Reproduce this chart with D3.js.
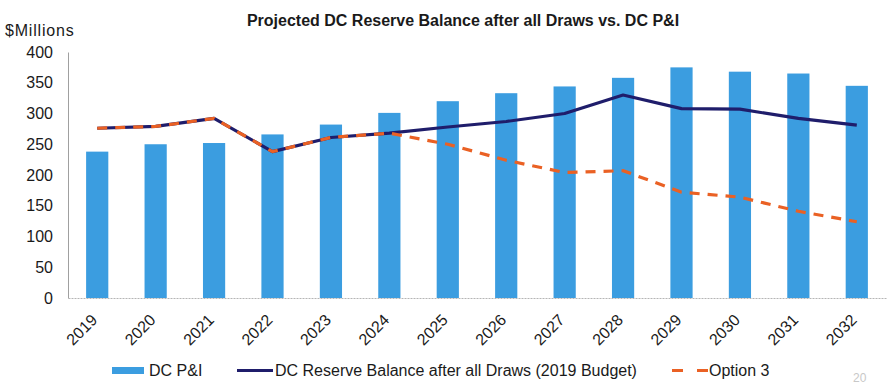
<!DOCTYPE html>
<html>
<head>
<meta charset="utf-8">
<script src="https://cdn.jsdelivr.net/npm/d3@7/dist/d3.min.js"></script>
<style>
  html, body { margin: 0; padding: 0; background: #ffffff; }
  svg { display: block; font-family: "Liberation Sans", Arial, sans-serif; }
</style>
</head>
<body>
<svg id="chart" width="891" height="392"></svg>
<script>
// Fiscal years shown on the category axis
const years = ["2019","2020","2021","2022","2023","2024","2025","2026","2027","2028","2029","2030","2031","2032"];
// Debt service (principal & interest), $ millions
const dcPI = [238, 250, 252, 266, 282, 301, 320, 333, 344, 358, 375, 368, 365, 345];
// Reserve balance after all draws, 2019 budget, $ millions
const reserveBudget = [276, 279, 292, 238, 261, 268, 278, 287, 300, 330, 308, 307, 292, 281];
// Alternative scenario, $ millions
const option3 = [276, 279, 292, 238, 261, 268, 250, 224, 204, 207, 172, 164, 141, 124];
const yTicks = [0, 50, 100, 150, 200, 250, 300, 350, 400];

const svg = d3.select("#chart");
const plot = { left: 68, right: 886, top: 52, bottom: 298 };

const x = d3.scaleBand().domain(years).range([plot.left, plot.right]).paddingInner(0.62).paddingOuter(0.31);
const y = d3.scaleLinear().domain([0, 400]).range([plot.bottom, plot.top]);

// Title and unit label
svg.append("text")
  .attr("x", 463).attr("y", 26)
  .attr("text-anchor", "middle")
  .attr("font-size", 16).attr("font-weight", "bold").attr("fill", "#1a1a1a")
  .text("Projected DC Reserve Balance after all Draws vs. DC P&I");

svg.append("text")
  .attr("x", 5).attr("y", 36)
  .attr("font-size", 16).attr("letter-spacing", 0.8).attr("fill", "#1a1a1a")
  .text("$Millions");

// Y axis
const yAxis = svg.append("g")
  .attr("transform", `translate(${plot.left},0)`)
  .call(d3.axisLeft(y).tickValues(yTicks).tickSize(0).tickPadding(15));
yAxis.select(".domain").attr("stroke", "#a0a0a0").attr("stroke-width", 1);
yAxis.selectAll("text").attr("font-size", 16).attr("fill", "#1a1a1a").attr("font-family", "Liberation Sans, Arial, sans-serif");

// Bars
svg.append("g").selectAll("rect")
  .data(years.map((yr, i) => ({ yr, v: dcPI[i] })))
  .join("rect")
  .attr("x", d => x(d.yr))
  .attr("width", x.bandwidth())
  .attr("y", d => y(d.v))
  .attr("height", d => y(0) - y(d.v))
  .attr("fill", "#3b9de0");

// X axis
const xAxis = svg.append("g")
  .attr("transform", `translate(0,${plot.bottom})`)
  .call(d3.axisBottom(x).tickSize(0).tickPadding(0));
xAxis.select(".domain").attr("stroke", "#b5b5b5").attr("stroke-width", 1).attr("stroke-dasharray", "2,1");
xAxis.selectAll("text")
  .attr("font-size", 16).attr("fill", "#1a1a1a").attr("font-family", "Liberation Sans, Arial, sans-serif")
  .attr("text-anchor", "end")
  .attr("dy", 0)
  .attr("transform", "translate(1,23) rotate(-45)");

const cx = yr => x(yr) + x.bandwidth() / 2;
const line = d3.line().x(d => cx(d.yr)).y(d => y(d.v));

svg.append("path")
  .datum(years.map((yr, i) => ({ yr, v: reserveBudget[i] })))
  .attr("d", line)
  .attr("fill", "none").attr("stroke", "#1f1d6b").attr("stroke-width", 3.2)
  .attr("stroke-linejoin", "round");

svg.append("path")
  .datum(years.map((yr, i) => ({ yr, v: option3[i] })))
  .attr("d", line)
  .attr("fill", "none").attr("stroke", "#ea6124").attr("stroke-width", 3.2)
  .attr("stroke-dasharray", "10,8");

// Legend
const lg = svg.append("g").attr("font-size", 16).attr("fill", "#1a1a1a");
lg.append("rect").attr("x", 112).attr("y", 367).attr("width", 32).attr("height", 7).attr("fill", "#3b9de0");
lg.append("text").attr("x", 149).attr("y", 376).text("DC P&I");
lg.append("line").attr("x1", 237).attr("x2", 273).attr("y1", 370.5).attr("y2", 370.5)
  .attr("stroke", "#1f1d6b").attr("stroke-width", 3.2);
lg.append("text").attr("x", 275).attr("y", 376).text("DC Reserve Balance after all Draws (2019 Budget)");
lg.append("line").attr("x1", 672).attr("x2", 708).attr("y1", 370.5).attr("y2", 370.5)
  .attr("stroke", "#ea6124").attr("stroke-width", 3.2).attr("stroke-dasharray", "11,14");
lg.append("text").attr("x", 709).attr("y", 376).text("Option 3");

// Page number
svg.append("text").attr("x", 853).attr("y", 382)
  .attr("font-size", 12).attr("fill", "#c8c8c8").text("20");
</script>
</body>
</html>
